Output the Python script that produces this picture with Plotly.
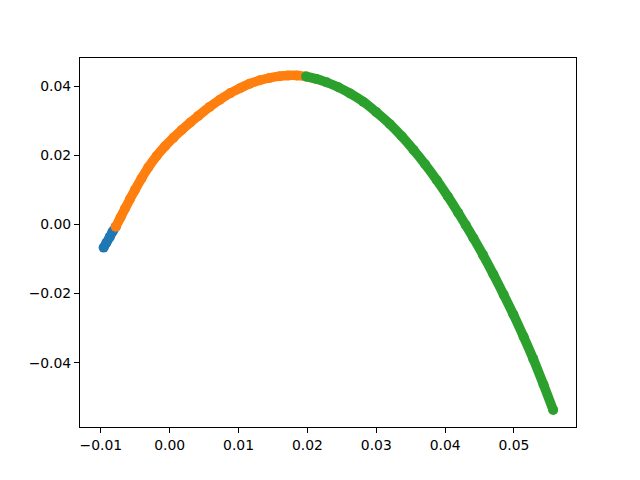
import plotly.graph_objects as go

# Series (x, y)
blue_x = [-0.0096, -0.0092, -0.0087, -0.0083, -0.00784]
blue_y = [-0.0067, -0.0053, -0.0036, -0.0021, -0.00069]

orange_x = [-0.00784, -0.00715, -0.00649, -0.00575, -0.00504, -0.0041, -0.00311, -0.0019,
            -0.00068, 0.00055, 0.00174, 0.0030, 0.00415, 0.0058, 0.0073, 0.0088, 0.0102,
            0.0116, 0.0131, 0.0145, 0.0160, 0.0172, 0.01845, 0.0198]
orange_y = [-0.00069, 0.0020, 0.0046, 0.0074, 0.0100, 0.0133, 0.0165, 0.0198,
            0.0226, 0.0251, 0.0273, 0.0295, 0.0314, 0.0340, 0.0361, 0.0380, 0.0394,
            0.0407, 0.0417, 0.0424, 0.0429, 0.0431, 0.0431, 0.0428]

green_x = [0.0198, 0.0213, 0.0228, 0.0245, 0.0262, 0.0281, 0.0300, 0.0320, 0.0337, 0.0354,
           0.0371, 0.0388, 0.0404, 0.0419, 0.0430, 0.0441, 0.0455, 0.0470, 0.0485, 0.0499,
           0.0514, 0.0528, 0.0543, 0.0557]
green_y = [0.0428, 0.0421, 0.0411, 0.0397, 0.0379, 0.0355, 0.0325, 0.0290, 0.0255, 0.0216,
           0.0174, 0.0128, 0.0081, 0.0034, -0.0002, -0.0039, -0.0088, -0.0144, -0.0203, -0.0260,
           -0.0325, -0.0389, -0.0464, -0.0537]

series = [
    (blue_x, blue_y, "#1f77b4"),
    (orange_x, orange_y, "#ff7f0e"),
    (green_x, green_y, "#2ca02c"),
]

fig = go.Figure()
for xs, ys, col in series:
    fig.add_trace(go.Scatter(
        x=xs, y=ys, mode="lines+markers",
        line=dict(color=col, width=9.5, shape="spline", smoothing=0.8),
        marker=dict(color=col, size=10),
        showlegend=False,
    ))

axis_common = dict(
    showgrid=False, zeroline=False, showline=True, linecolor="black", linewidth=1,
    mirror=True, ticks="outside", ticklen=5, tickwidth=1, tickcolor="black",
    tickfont=dict(family="DejaVu Sans", size=13.9, color="black"), tickformat=".2f",
)

fig.update_layout(
    width=640, height=480,
    margin=dict(l=72, r=72, t=50, b=61),
    paper_bgcolor="white", plot_bgcolor="white",
    xaxis=dict(range=[-0.01303, 0.05901], tick0=0, dtick=0.01, **axis_common),
    yaxis=dict(range=[-0.0586, 0.04815], tick0=0, dtick=0.02, **axis_common),
)

fig.write_html("out.html", config={"displayModeBar": False})
